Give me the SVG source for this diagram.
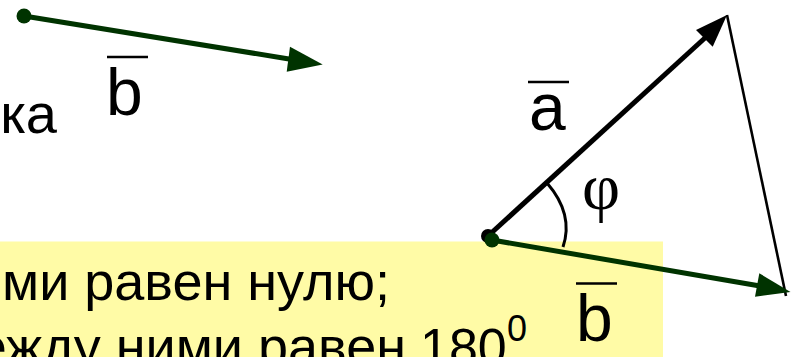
<svg xmlns="http://www.w3.org/2000/svg" width="802" height="357" viewBox="0 0 802 357">
<style>
.t{font-family:"Liberation Sans",Arial,sans-serif;fill:#000}
.lbl{font-family:"Liberation Sans",Arial,sans-serif;font-size:66px;fill:#000}
.bar{stroke:#000;stroke-width:2.7}
.g{stroke:#003300;stroke-width:5;fill:none}
.k{stroke:#000;stroke-width:5;fill:none}
</style>
<rect x="0" y="241.5" width="663" height="116" fill="#FFFBA6"/>
<g id="text">
<text class="t" x="57" y="133" font-size="56" text-anchor="end">ка</text>
<text class="t" x="2" y="300" font-size="54">ми равен нулю;</text>
<text class="t" x="406" y="365" font-size="54" text-anchor="end">ежду ними равен</text>
<text class="t" x="420" y="365" font-size="52">180</text>
<text class="t" x="507" y="341" font-size="36">0</text>
</g>
<g id="connectors">
<g id="vec-b-top">
<line class="g" x1="24" y1="16" x2="292" y2="59.5"/>
<polygon points="322.7,64.5 290,46.7 286.7,71.7" fill="#003300"/>
<circle cx="24" cy="16" r="7.5" fill="#003300"/>
</g>
<g id="side">
<line x1="727" y1="15" x2="786" y2="296" stroke="#000" stroke-width="2.6"/>
</g>
<g id="vec-a">
<line class="k" x1="488" y1="236" x2="706" y2="37"/>
<polygon points="727,15 696,30 712.7,46.7" fill="#000"/>
<circle cx="488" cy="236" r="7" fill="#000"/>
</g>
<g id="vec-b">
<line class="g" x1="492" y1="240" x2="760" y2="286"/>
<polygon points="790.5,292 759.3,273.3 755,296.7" fill="#003300"/>
<circle cx="492" cy="240" r="7.5" fill="#003300"/>
</g>
<path id="angle-arc" d="M547,183 Q574,214 563,247" fill="none" stroke="#000" stroke-width="3"/>
</g>
<g id="label-b-top">
<text class="lbl" x="106" y="115">b</text>
<line class="bar" x1="107" y1="57" x2="148" y2="57"/>
</g>
<g id="label-a">
<text class="lbl" x="529" y="130">a</text>
<line class="bar" x1="528" y1="82" x2="569" y2="82"/>
</g>
<g id="label-b">
<text class="lbl" x="576" y="341">b</text>
<line class="bar" x1="576" y1="283.5" x2="617" y2="283.5"/>
</g>
<g id="label-phi">
<text x="601" y="209" text-anchor="middle" font-family="Liberation Serif,'Times New Roman',serif" font-size="66">φ</text>
</g>
</svg>
